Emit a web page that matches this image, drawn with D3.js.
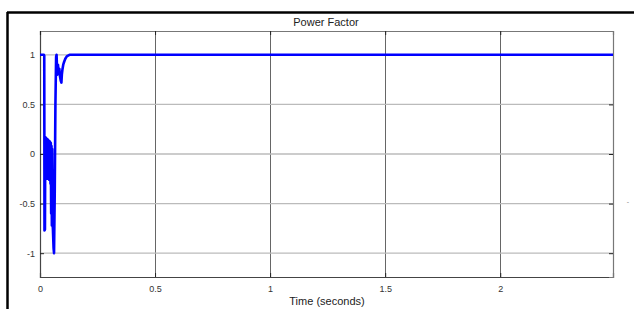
<!DOCTYPE html>
<html><head><meta charset="utf-8">
<script src="https://cdn.jsdelivr.net/npm/d3@7"></script>
<style>body{margin:0;background:#fff;}svg{display:block;font-family:"Liberation Sans",Arial,sans-serif;}</style>
</head><body>
<svg id="c" width="634" height="309"></svg>
<script>
const title = "Power Factor";
const xLabel = "Time (seconds)";
const xTicks = [0, 0.5, 1, 1.5, 2];
const yTicks = [-1, -0.5, 0, 0.5, 1];
const timeValues = [0, 0.017, 0.0185, 0.0195, 0.0215, 0.023, 0.0245, 0.026, 0.0275, 0.029, 0.0305, 0.032, 0.0335, 0.035, 0.0365, 0.038, 0.0395, 0.041, 0.0425, 0.044, 0.0455, 0.047, 0.0485, 0.050, 0.0515, 0.053, 0.0545, 0.056, 0.059, 0.061, 0.064, 0.067, 0.070, 0.072, 0.075, 0.078, 0.081, 0.084, 0.087, 0.090, 0.093, 0.095, 0.098, 0.101, 0.105, 0.110, 0.115, 0.120, 0.128, 0.136, 0.145, 0.16, 2.49];
const powerFactor = [1, 1, 0.99, -0.77, -0.76, 0.17, -0.18, 0.16, -0.22, 0.15, -0.25, 0.15, -0.2, 0.14, -0.24, 0.13, -0.26, 0.13, -0.22, 0.12, -0.3, 0.11, -0.6, 0.08, -0.72, 0.05, -0.7, -0.75, -0.95, -1.0, -0.4, 0.5, 0.98, 1.0, 0.8, 0.9, 0.82, 0.86, 0.78, 0.74, 0.72, 0.8, 0.86, 0.9, 0.93, 0.96, 0.98, 0.99, 1.0, 1.0, 1.0, 1.0, 1.0];

const svg = d3.select("#c");
const L = 40, T = 31, R = 613, B = 277;
const x = d3.scaleLinear().domain([0, 2.49]).range([L, R]);
const y = d3.scaleLinear().domain([-1.24, 1.24]).range([B, T]);
const fmt = d => String(d);

// outer frame
svg.append("line").attr("x1", 7).attr("x2", 634).attr("y1", 12.5).attr("y2", 12.5).attr("stroke", "#000").attr("stroke-width", 2.5);
svg.append("line").attr("x1", 7.5).attr("x2", 7.5).attr("y1", 12).attr("y2", 309).attr("stroke", "#000").attr("stroke-width", 2.5);

// grid
svg.append("g").selectAll("line").data(xTicks.slice(1)).join("line")
  .attr("x1", d => Math.round(x(d)) + 0.5).attr("x2", d => Math.round(x(d)) + 0.5)
  .attr("y1", T).attr("y2", B).attr("stroke", "#666").attr("stroke-width", 1);
svg.append("g").selectAll("line").data(yTicks).join("line")
  .attr("x1", L).attr("x2", R).attr("y1", d => y(d)).attr("y2", d => y(d))
  .attr("stroke", "#bbb").attr("stroke-width", 1.3);

// axes (ticks inside)
const gx = svg.append("g").attr("transform", `translate(0,${B})`)
  .call(d3.axisBottom(x).tickValues(xTicks).tickSize(-4).tickPadding(9).tickFormat(fmt));
const gy = svg.append("g").attr("transform", `translate(${L},0)`)
  .call(d3.axisLeft(y).tickValues(yTicks).tickSize(-4).tickPadding(5).tickFormat(fmt));
const gxt = svg.append("g").attr("transform", `translate(0,${T})`)
  .call(d3.axisTop(x).tickValues(xTicks).tickSize(-4).tickFormat(""));
const gyr = svg.append("g").attr("transform", `translate(${R},0)`)
  .call(d3.axisRight(y).tickValues(yTicks).tickSize(-4).tickFormat(""));
[gx, gy, gxt, gyr].forEach(g => {
  g.select(".domain").attr("stroke", "#444").attr("stroke-width", 1.2);
  g.selectAll(".tick line").attr("stroke", "#222");
  g.selectAll("text").attr("font-size", 9).attr("fill", "#333").attr("font-family", "Liberation Sans, Arial, sans-serif");
});
gyr.select(".domain").attr("stroke", "#777");
gxt.select(".domain").attr("stroke", "#777");

// curve
const pts = timeValues.map((t, i) => [t, powerFactor[i]]);
svg.append("path").datum(pts)
  .attr("d", d3.line().x(d => x(d[0])).y(d => y(d[1])))
  .attr("fill", "none").attr("stroke", "#0000ff").attr("stroke-width", 2.6).attr("stroke-linejoin", "round");

// texts
svg.append("text").attr("x", 326).attr("y", 26).attr("text-anchor", "middle").attr("font-size", 11).attr("fill", "#222").text(title);
svg.append("text").attr("x", 327).attr("y", 305).attr("text-anchor", "middle").attr("font-size", 11).attr("fill", "#222").text(xLabel);
svg.append("text").attr("x", 628).attr("y", 204).attr("text-anchor", "middle").attr("font-size", 7).attr("fill", "#888").text("-");
</script>
</body></html>
